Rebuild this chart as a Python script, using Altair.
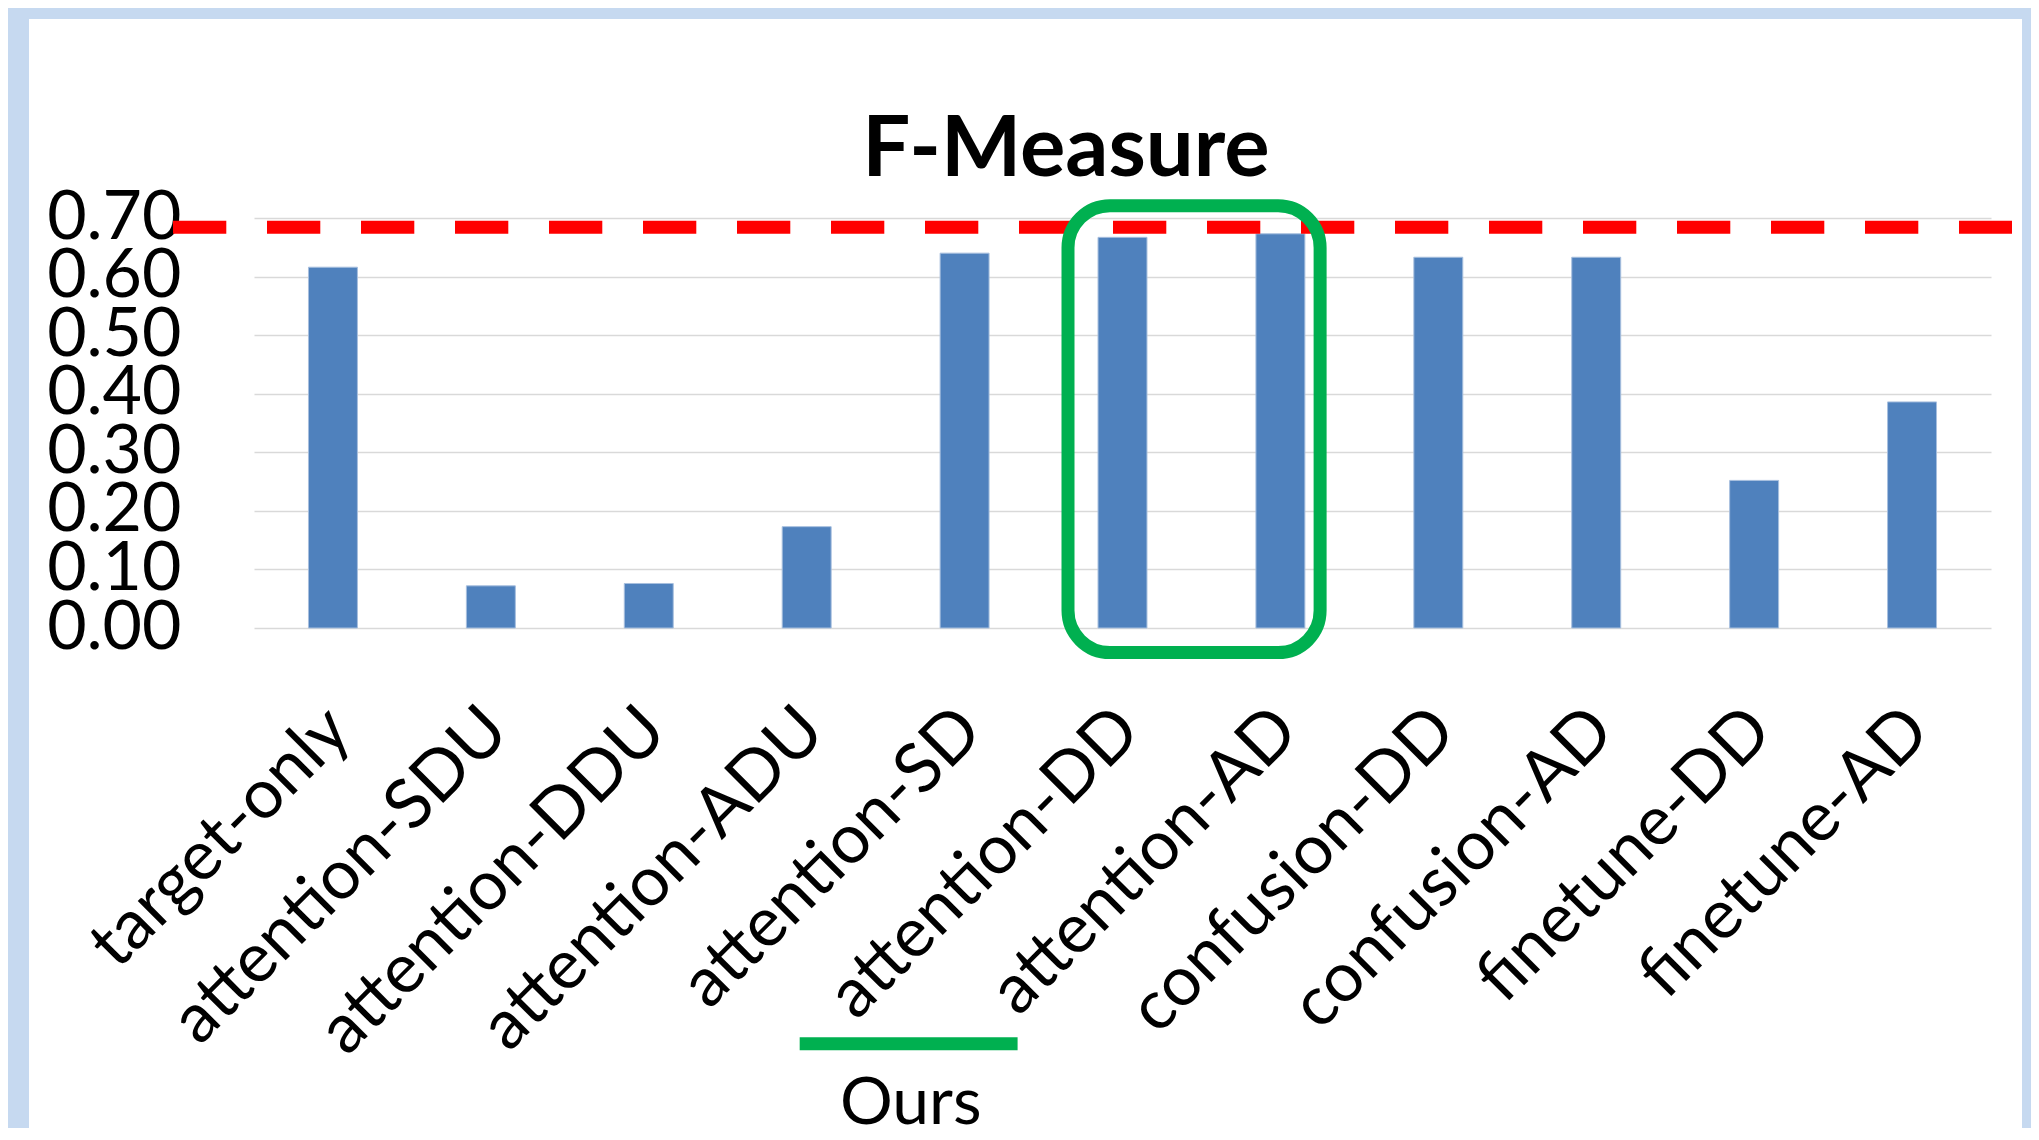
import altair as alt
import pandas as pd

# ---- data -------------------------------------------------------------
categories = [
    "target-only", "attention-SDU", "attention-DDU", "attention-ADU",
    "attention-SD", "attention-DD", "attention-AD", "confusion-DD",
    "confusion-AD", "finetune-DD", "finetune-AD",
]
values = [0.616, 0.072, 0.076, 0.173, 0.640, 0.667, 0.673, 0.633, 0.633, 0.252, 0.386]
y_ticks = [0.0, 0.1, 0.2, 0.3, 0.4, 0.5, 0.6, 0.7]
reference_level = 0.684
title_text = "F-Measure"
ours_text = "Ours"

# ---- layout -----------------------------------------------------------
W, H = 1737, 410
PL, PT, PR, PB = 246, 210, 40, 500
FONT = "Lato"
BLUE_BG = "#C6D9F0"

df = pd.DataFrame({"method": categories, "f": values})
one = pd.DataFrame({"k": [0]})

x_scale = alt.Scale(domain=categories, paddingInner=0.69, paddingOuter=0.345)
y_scale = alt.Scale(domain=[0, 0.7], nice=False)

# light-blue frame strips around the white slide panel
def strip(x1, x2, y1, y2):
    return alt.Chart(one).mark_rect(fill=BLUE_BG).encode(
        x=alt.value(x1), x2=alt.value(x2), y=alt.value(y1), y2=alt.value(y2)
    )

left_strip = strip(-PL, -225, -PT, H + PB)
top_strip = strip(-PL, W + PR, -PT, -199)
right_strip = strip(1768, W + PR, -PT, H + PB)

bars = alt.Chart(df).mark_bar(color="#4F81BD", stroke="#A7BFDE", strokeWidth=1).encode(
    x=alt.X(
        "method:N", sort=categories, scale=x_scale,
        axis=alt.Axis(
            title=None, labelAngle=-45, labelAlign="right", labelBaseline="top",
            labelFont=FONT, labelFontSize=69, labelColor="black",
            labelPadding=67, labelOffset=-18, labelLimit=2000, labelOverlap=False,
            ticks=False, domain=False, grid=False,
        ),
    ),
    y=alt.Y(
        "f:Q", scale=y_scale,
        axis=alt.Axis(
            title=None, values=y_ticks, format=".2f",
            labelFont=FONT, labelFontSize=68, labelColor="black",
            labelPadding=73, labelOverlap=False, ticks=False, domain=False,
            grid=True, gridColor="#D9D9D9", gridWidth=1.5,
        ),
    ),
)

red = alt.Chart(one).mark_rule(
    color="#FF0000", strokeWidth=13, strokeDash=[53.3, 40.7], strokeCap="butt"
).encode(x=alt.value(-81), x2=alt.value(1758), y=alt.YDatum(reference_level))

box = alt.Chart(one).mark_rect(
    fill="transparent", stroke="#00B050", strokeWidth=13, cornerRadius=42,
    xOffset=-54.5, x2Offset=39.7,
).encode(
    x=alt.XDatum("attention-DD", bandPosition=0.5),
    x2=alt.X2Datum("attention-AD", bandPosition=0.5),
    y=alt.YDatum(0.721),
    y2=alt.Y2Datum(-0.042),
)

underline = alt.Chart(one).mark_rule(
    color="#00B050", strokeWidth=13, strokeCap="butt", xOffset=-7, x2Offset=53
).encode(
    x=alt.XDatum("attention-ADU", bandPosition=0.5),
    x2=alt.X2Datum("attention-SD", bandPosition=0.5),
    y=alt.YDatum(-0.710),
)

ours = alt.Chart(one).mark_text(
    text=ours_text, font=FONT, fontSize=66, align="center", baseline="alphabetic",
    dx=104, color="black",
).encode(x=alt.XDatum("attention-ADU", bandPosition=0.5), y=alt.YDatum(-0.8467))

title = alt.Chart(one).mark_text(
    text=title_text, font=FONT, fontSize=85, fontWeight="bold", align="center",
    baseline="alphabetic", color="black",
).encode(x=alt.value(812), y=alt.value(-42))

chart = alt.layer(
    left_strip, top_strip, right_strip, bars, red, box, underline, ours, title
).properties(
    width=W, height=H,
    padding={"left": PL, "top": PT, "right": PR, "bottom": PB},
    autosize=alt.AutoSizeParams(type="none"),
    background="white",
).configure_view(stroke=None)

chart.save("out.html", embed_options={"renderer": "svg", "actions": False})
